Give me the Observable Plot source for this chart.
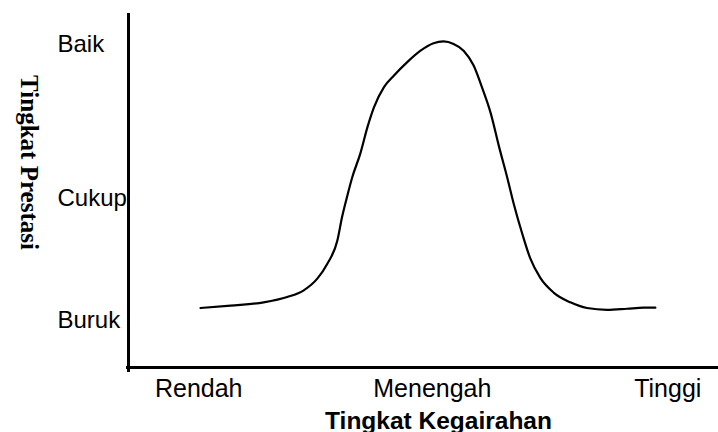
<!DOCTYPE html>
<html>
<head>
<meta charset="utf-8">
<script src="https://cdn.jsdelivr.net/npm/d3@7"></script>
<script src="https://cdn.jsdelivr.net/npm/@observablehq/plot@0.6"></script>
<style>
  html, body { margin: 0; padding: 0; background: #fff; }
  svg { display: block; }
</style>
</head>
<body>
<div id="chart"></div>
<script>
// Curve, in 0-100 units on both axes
const kegairahan = [12.2, 17.3, 22.9, 26.9, 29.7, 32.0, 33.7, 35.4, 36.2, 37.1, 37.9, 39.3, 40.5, 41.6, 43.3, 45.0, 47.2, 49.5, 51.7, 53.4, 55.1, 56.8, 58.5, 59.9, 61.4, 62.8, 64.2, 65.3, 66.7, 68.1, 69.8, 72.1, 74.9, 77.7, 81.1, 84.5, 87.3, 89.3];
const prestasi   = [16.8, 17.5, 18.4, 19.9, 21.8, 25.1, 29.3, 35.9, 42.5, 48.6, 53.6, 60.5, 67.9, 73.5, 79.2, 82.5, 86.2, 89.5, 91.6, 92.1, 91.4, 89.5, 85.3, 79.2, 71.8, 62.4, 53.6, 46.2, 38.0, 30.8, 25.3, 21.1, 18.4, 16.8, 16.3, 16.6, 16.9, 16.9];

const xTickValues = [11.9, 51.5, 91.4];
const xTickLabels = ["Rendah", "Menengah", "Tinggi"];
const yTickValues = [13.3, 47.8, 91.4];
const yTickLabels = ["Buruk", "Cukup", "Baik"];

const xTitle = "Tingkat Kegairahan";
const yTitle = "Tingkat Prestasi";

const points = kegairahan.map((x, i) => ({x, y: prestasi[i]}));

const chart = Plot.plot({
  width: 718,
  height: 432,
  marginLeft: 128,
  marginRight: 0,
  marginTop: 13,
  marginBottom: 65,
  x: {domain: [0, 100]},
  y: {domain: [0, 100]},
  style: {fontFamily: "'Liberation Sans', Arial, sans-serif", background: "#fff", color: "#000"},
  marks: [
    Plot.axisY({
      ticks: yTickValues,
      tickFormat: (d) => yTickLabels[yTickValues.indexOf(d)],
      tickSize: 0,
      tickPadding: 0,
      textAnchor: "start",
      dx: -71,
      fontSize: 24,
      label: null
    }),
    Plot.axisX({
      ticks: xTickValues,
      tickFormat: (d) => xTickLabels[xTickValues.indexOf(d)],
      tickSize: 0,
      tickPadding: 12,
      fontSize: 25,
      label: null
    }),
    Plot.ruleX([0], {stroke: "#000", strokeWidth: 3, insetBottom: -5}),
    Plot.ruleY([0], {stroke: "#000", strokeWidth: 3, insetLeft: -2}),
    Plot.line(points, {x: "x", y: "y", curve: "monotone-x", stroke: "#000", strokeWidth: 2.2}),
    Plot.text([xTitle], {
      frameAnchor: "bottom",
      lineAnchor: "bottom",
      dx: 15,
      dy: 61,
      fontSize: 24.5,
      fontWeight: "bold",
      fill: "#000"
    }),
    Plot.text([yTitle], {
      frameAnchor: "left",
      textAnchor: "middle",
      rotate: 90,
      dx: -100,
      dy: -28,
      fontSize: 25,
      fontWeight: "bold",
      fontFamily: "'Liberation Serif', 'Times New Roman', serif",
      fill: "#000"
    })
  ]
});

document.getElementById("chart").appendChild(chart);
</script>
</body>
</html>
